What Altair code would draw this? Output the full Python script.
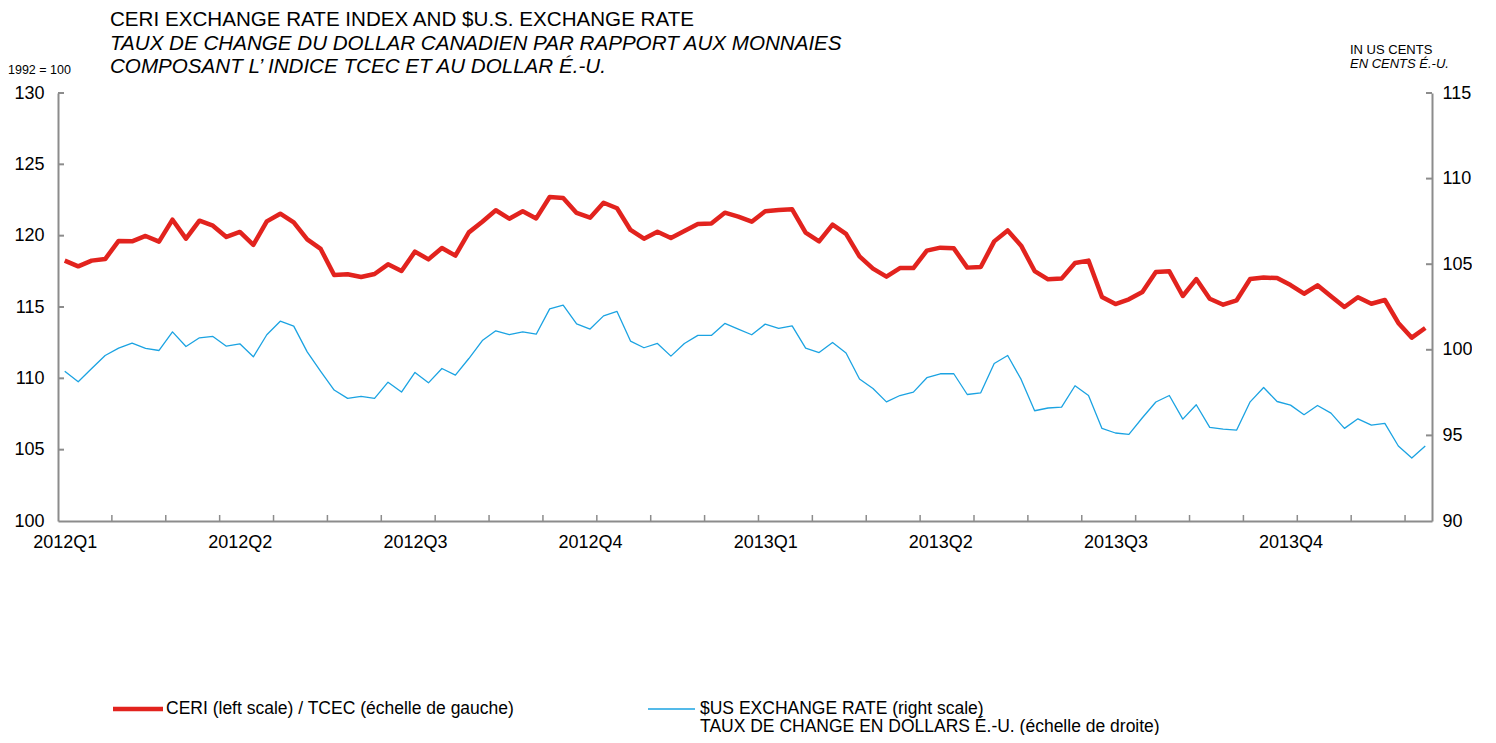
import json
import altair as alt
import pandas as pd

# ---------------- data ----------------
quarters = ["2012Q1", "2012Q2", "2012Q3", "2012Q4", "2013Q1", "2013Q2", "2013Q3", "2013Q4"]
weeks_per_quarter = 13
tick_every = 4

ceri = [118.25, 117.85, 118.25, 118.36, 119.63, 119.60, 119.98, 119.58, 121.12, 119.79,
        121.05, 120.70, 119.91, 120.26, 119.35, 121.00, 121.54, 120.93, 119.74, 119.07,
        117.24, 117.29, 117.10, 117.31, 117.99, 117.52, 118.88, 118.34, 119.14, 118.60,
        120.23, 120.98, 121.78, 121.19, 121.71, 121.21, 122.71, 122.64, 121.59, 121.26,
        122.31, 121.92, 120.40, 119.79, 120.28, 119.84, 120.33, 120.82, 120.86, 121.61,
        121.33, 120.98, 121.71, 121.80, 121.85, 120.21, 119.60, 120.77, 120.12, 118.55,
        117.69, 117.13, 117.73, 117.73, 118.95, 119.16, 119.11, 117.76, 117.80, 119.60,
        120.37, 119.30, 117.52, 116.94, 116.99, 118.08, 118.25, 115.70, 115.21, 115.54,
        116.05, 117.45, 117.50, 115.77, 116.96, 115.58, 115.16, 115.47, 116.96, 117.06,
        117.03, 116.54, 115.93, 116.52, 115.75, 115.00, 115.68, 115.23, 115.49, 113.88,
        112.85, 113.53]

usd = [98.75, 98.13, 98.91, 99.67, 100.10, 100.39, 100.08, 99.96, 101.05, 100.19,
       100.70, 100.78, 100.21, 100.35, 99.59, 100.88, 101.67, 101.38, 99.88, 98.74,
       97.65, 97.16, 97.28, 97.16, 98.11, 97.53, 98.68, 98.07, 98.91, 98.52,
       99.49, 100.54, 101.11, 100.88, 101.05, 100.91, 102.39, 102.61, 101.52, 101.21,
       101.98, 102.24, 100.51, 100.12, 100.37, 99.63, 100.37, 100.84, 100.84, 101.54,
       101.21, 100.88, 101.50, 101.25, 101.40, 100.10, 99.84, 100.43, 99.81, 98.29,
       97.74, 96.96, 97.33, 97.53, 98.37, 98.60, 98.60, 97.39, 97.49, 99.20,
       99.67, 98.27, 96.44, 96.60, 96.65, 97.90, 97.33, 95.41, 95.14, 95.06,
       96.03, 96.95, 97.33, 95.95, 96.79, 95.47, 95.37, 95.31, 96.96, 97.80,
       96.98, 96.77, 96.21, 96.75, 96.30, 95.41, 95.97, 95.60, 95.70, 94.38,
       93.68, 94.38]

left_ticks = [100, 105, 110, 115, 120, 125, 130]
right_ticks = [90, 95, 100, 105, 110, 115]

weeks = list(range(len(ceri)))
df = pd.DataFrame({"week": weeks, "ceri": ceri, "usd": usd})

# ---------------- style ----------------
FONT = "Liberation Sans"
GREY = "#8c8c8c"
RED = "#E2231E"
BLUE = "#1BA3E2"
W, H = 1374, 428

xscale = alt.Scale(domain=[-0.5, len(weeks) - 0.5], nice=False, zero=False)
lscale = alt.Scale(domain=[left_ticks[0], left_ticks[-1]], nice=False, zero=False)
rscale = alt.Scale(domain=[right_ticks[0], right_ticks[-1]], nice=False, zero=False)

x_axis = alt.Axis(
    values=[i * weeks_per_quarter for i in range(len(quarters))],
    labelExpr=f"{json.dumps(quarters)}[round(datum.value/{weeks_per_quarter})]",
    ticks=False, grid=False, domainColor=GREY, domainWidth=2,
    labelFont=FONT, labelFontSize=18, labelColor="black", labelPadding=12,
    labelFlush=False, labelOverlap=False, title=None,
)

base = alt.Chart(df)

red_line = base.mark_line(color=RED, strokeWidth=4.5, strokeJoin="round").encode(
    x=alt.X("week:Q", scale=xscale, axis=x_axis, title=None),
    y=alt.Y("ceri:Q", scale=lscale, title=None,
            axis=alt.Axis(values=left_ticks, ticks=False, grid=False, domainColor=GREY,
                          domainWidth=2, labelFont=FONT, labelFontSize=18,
                          labelColor="black", labelPadding=14, title=None)),
)

blue_line = base.mark_line(color=BLUE, strokeWidth=1.3, strokeJoin="round").encode(
    x=alt.X("week:Q", scale=xscale, axis=x_axis, title=None),
    y=alt.Y("usd:Q", scale=rscale, title=None,
            axis=alt.Axis(orient="right", values=right_ticks, ticks=False, grid=False,
                          domainColor=GREY, domainWidth=2, labelFont=FONT,
                          labelFontSize=18, labelColor="black", labelPadding=10,
                          title=None)),
)

# inward tick marks
lt = alt.Chart(pd.DataFrame({"v": left_ticks[1:]})).mark_rule(color=GREY, strokeWidth=2).encode(
    y=alt.Y("v:Q", scale=lscale, axis=None), x=alt.value(0), x2=alt.value(6))
rt = alt.Chart(pd.DataFrame({"v": right_ticks[1:]})).mark_rule(color=GREY, strokeWidth=2).encode(
    y=alt.Y("v:Q", scale=rscale, axis=None), x=alt.value(W - 6), x2=alt.value(W))
bounds = [k - 0.5 for k in range(tick_every, len(weeks), tick_every)]
xt = alt.Chart(pd.DataFrame({"b": bounds})).mark_rule(color=GREY, strokeWidth=1.5).encode(
    x=alt.X("b:Q", scale=xscale, axis=x_axis, title=None), y=alt.value(H), y2=alt.value(H - 6))


def txt(s, x, y, size, italic=False, align="left"):
    return alt.Chart(pd.DataFrame({"t": [s]})).mark_text(
        font=FONT, fontSize=size, fontStyle="italic" if italic else "normal",
        align=align, baseline="middle", color="black",
    ).encode(text="t:N", x=alt.value(x), y=alt.value(y))


texts = [
    txt("CERI EXCHANGE RATE INDEX AND $U.S. EXCHANGE RATE", 52, -73, 20.6),
    txt("TAUX DE CHANGE DU DOLLAR CANADIEN PAR RAPPORT AUX MONNAIES", 52, -49, 20.6, True),
    txt("COMPOSANT L\u2019 INDICE TCEC ET AU DOLLAR \u00c9.-U.", 52, -26, 20.6, True),
    txt("1992 = 100", -50, -23, 12.5),
    txt("IN US CENTS", 1292, -43, 13),
    txt("EN CENTS \u00c9.-U.", 1292, -29, 13, True),
    txt("CERI (left scale) / TCEC (\u00e9chelle de gauche)", 108, 616, 17.5),
    txt("$US EXCHANGE RATE (right scale)", 642, 616, 17.5),
    txt("TAUX DE CHANGE EN DOLLARS \u00c9.-U. (\u00e9chelle de droite)", 642, 634, 17.5),
]

leg_red = alt.Chart(pd.DataFrame({"a": [0]})).mark_rule(color=RED, strokeWidth=4.5).encode(
    x=alt.value(55), x2=alt.value(105), y=alt.value(616))
leg_blue = alt.Chart(pd.DataFrame({"a": [0]})).mark_rule(color=BLUE, strokeWidth=1.3).encode(
    x=alt.value(590), x2=alt.value(637), y=alt.value(616))

chart = alt.layer(
    red_line, blue_line, lt, rt, xt, leg_red, leg_blue, *texts
).resolve_scale(y="independent").properties(
    width=W, height=H,
    padding={"left": 50, "top": 85, "right": 40, "bottom": 214},
    autosize=alt.AutoSizeParams(type="none"),
).configure_view(stroke=None)

chart.save("out.html", embed_options={"renderer": "svg", "actions": False})
